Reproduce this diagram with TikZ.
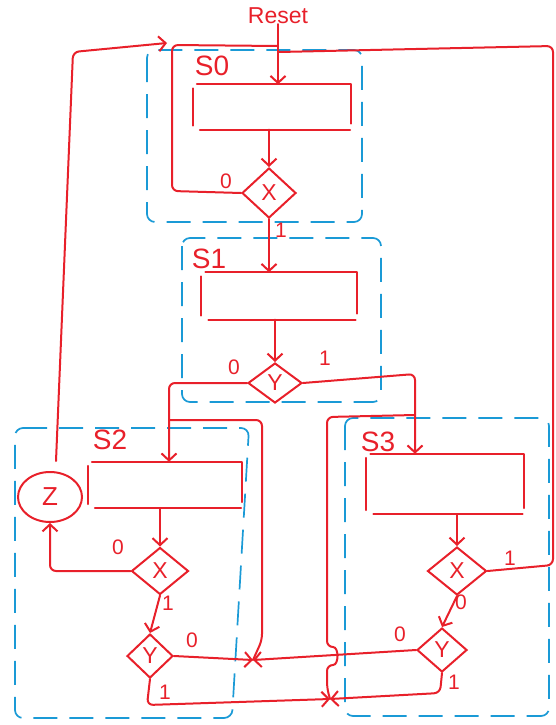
\documentclass[tikz,border=0pt]{standalone}
\usepackage{fontspec}
\setmainfont{Liberation Sans}
\usetikzlibrary{shapes.geometric,arrows.meta}
\definecolor{pen}{HTML}{E8202A}
\definecolor{blu}{HTML}{1A9AD6}
\begin{document}
\begin{tikzpicture}[x=1pt,y=-1pt,
  wire/.style={pen,line width=2pt,line cap=round,line join=round,rounded corners=6pt},
  arr/.style={wire,-{Straight Barb[length=7pt,width=15pt,line width=2pt]}},
  frame/.style={blu,line width=1.7pt,dash pattern=on 24pt off 12pt,rounded corners=8pt},
  statebox/.style={rectangle,draw=none,inner sep=0pt},
  dia/.style={diamond,draw=pen,line width=2pt,inner sep=0pt,text=pen,font=\fontsize{23}{23}\selectfont},
  lab/.style={text=pen,inner sep=0pt,font=\fontsize{21}{21}\selectfont},
  slab/.style={text=pen,inner sep=0pt,font=\fontsize{28}{28}\selectfont}
]
\useasboundingbox (0,0) rectangle (556,725);

% frames (blue dashed)
\draw[frame] (147,50) rectangle (362,222);
\draw[frame] (182,238) rectangle (381,402);
\draw[frame] (15,428) -- (249,428) -- (232,718) -- (15,718) -- cycle;
\draw[frame] (345,418) rectangle (549,716);

% state boxes
\node[statebox,minimum width=158pt,minimum height=45pt] (S0r) at (272,107) {};
\node[statebox,minimum width=155pt,minimum height=47pt] (S1r) at (279,296) {};
\node[statebox,minimum width=154pt,minimum height=46pt] (S2r) at (165,485) {};
\node[statebox,minimum width=157pt,minimum height=60pt] (S3r) at (445,484) {};
\foreach \r in {S0r,S1r,S2r,S3r}{
  \draw[wire,rounded corners=0pt] ([xshift=4pt]\r.north west) -- (\r.north east) -- ([yshift=6pt]\r.south east);
  \draw[wire] ([yshift=-4pt]\r.north west) -- ([yshift=4pt]\r.south west);
  \draw[wire] ([xshift=7pt]\r.south west) -- ([xshift=-1pt]\r.south east);
}

% state labels
\node[slab] (s0) at (212,66) {S0};
\node[slab] (s1) at (209,259) {S1};
\node[slab] (s2) at (110,440) {S2};
\node[slab] (s3) at (378,442) {S3};
\node[text=pen,inner sep=0pt,font=\fontsize{23}{23}\selectfont] (reset) at (278,16) {Reset};

% decision diamonds
\node[dia,minimum width=54pt,minimum height=50pt] (X0) at (269,193) {X};
\node[dia,minimum width=54pt,minimum height=40pt] (Y1) at (275,383) {Y};
\node[dia,minimum width=57pt,minimum height=47pt] (X2) at (160,571) {X};
\node[dia,minimum width=46pt,minimum height=44pt] (Y2) at (150,656) {Y};
\node[dia,minimum width=59pt,minimum height=48pt] (X3) at (457,571) {X};
\node[dia,minimum width=50pt,minimum height=44pt] (Y3) at (442,650) {Y};

% output
\node[ellipse,draw=pen,line width=2pt,minimum width=64pt,minimum height=50pt,text=pen,
      font=\fontsize{26}{26}\selectfont,inner sep=0pt] (Z) at (50,497) {Z};

% helper coordinates
\coordinate (m0) at (279,52);
\coordinate (e2) at (169,420);
\coordinate (e3) at (415,415);
\coordinate (jA) at (253,660);
\coordinate (jB) at (330,699);

% S0
\draw[arr] (reset.south) -- (reset.south |- S0r.north);
\draw[wire] (X3.east) -- (553,565) -- (553,46) -- (m0);
\draw[wire] (X0.west) -- (172,191) -- (172,45) -- (278,46);
\draw[arr] (S0r.south -| X0) -- (X0.north);
\draw[arr] (X0.south) -- (X0.south |- S1r.north);
\node[lab] (l00) at (226,181) {0};
\node[lab] (l01) at (281,230) {1};

% Z loop back to S0
\draw[arr] ([shift={(6,-10)}]Z.north) -- (73,52) -- (167,43);

% S1
\draw[arr] (S1r.south -| Y1) -- (Y1.north);
\draw[arr] (Y1.west) -- (169,383) -- (e2 |- S2r.north);
\draw[arr] (Y1.east) -- (415,374) -- (e3 |- S3r.north);
\node[lab] (l10) at (234,367) {0};
\node[lab] (l11) at (325,358) {1};

% merge lines
\draw[wire] (jA) -- (262,640) -- (262,420) -- (e2);
\draw[wire] (jB) -- (327,688) -- (327,665) .. controls (339,665) and (339,647) .. (327,647) -- (327,417) -- (e3);

% S2
\draw[arr] (S2r.south -| X2) -- (X2.north);
\draw[arr] (X2.west) -- (Z.south |- X2.west) -- (Z.south);
\draw[arr] (X2.south) -- (Y2.north);
\draw[arr] (Y2.east) -- (jA);
\draw[arr] (Y2.south) -- (147,705) -- (jB);
\node[lab] (l20) at (118,547) {0};
\node[lab] (l21) at (168,603) {1};
\node[lab] (l22) at (192,640) {0};
\node[lab] (l23) at (165,692) {1};

% S3
\draw[arr] (S3r.south -| X3) -- (X3.north);
\draw[arr] (X3.south) -- (Y3.north);
\draw[arr] (Y3.west) -- (jA);
\draw[arr] (Y3.south) -- (440,693) -- (jB);
\node[lab] (l30) at (510,558) {1};
\node[lab] (l31) at (461,602) {0};
\node[lab] (l32) at (400,634) {0};
\node[lab] (l33) at (454,682) {1};
\end{tikzpicture}
\end{document}
